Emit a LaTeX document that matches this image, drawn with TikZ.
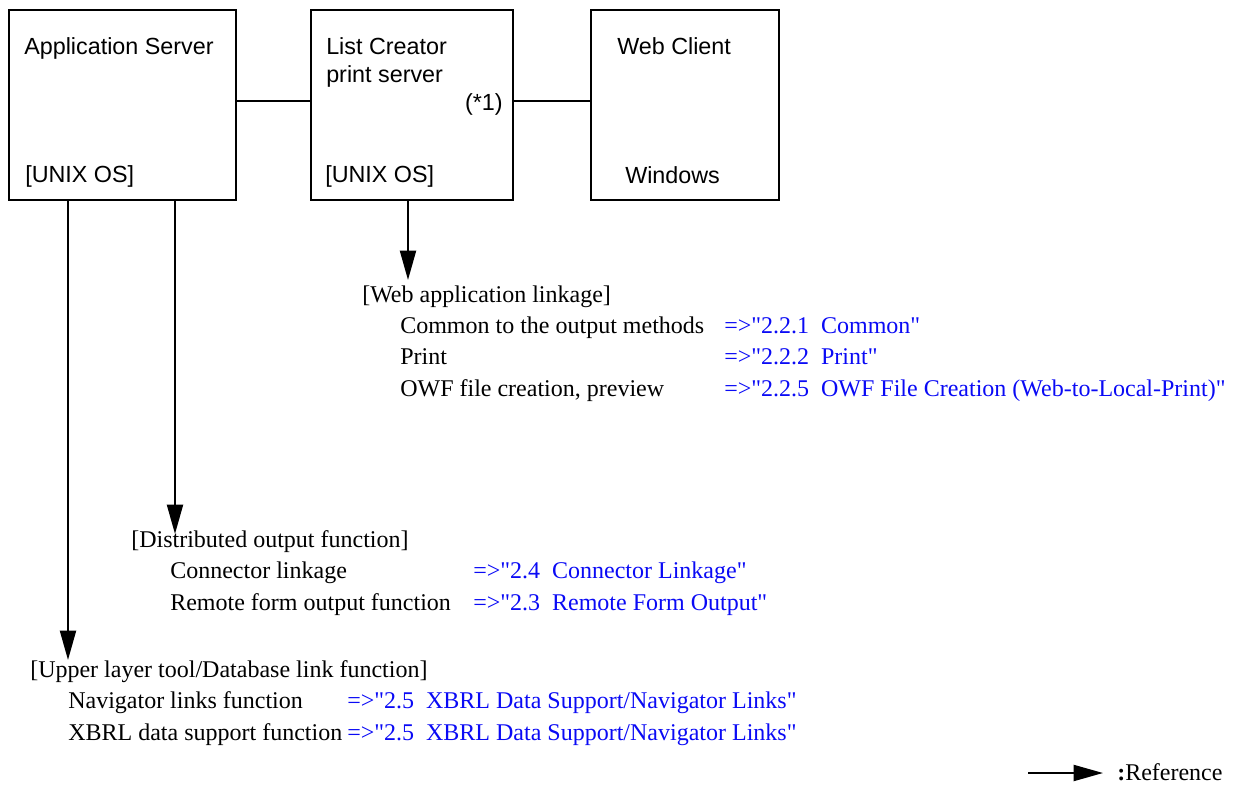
\documentclass[tikz,border=0pt]{standalone}
\usepackage{fontspec}
\setmainfont{Liberation Serif}[Ligatures=TeXOff]
\setsansfont{Liberation Sans}
\usetikzlibrary{arrows.meta}
\definecolor{refblue}{RGB}{10,10,245}
\begin{document}
\begin{tikzpicture}[x=0.75pt,y=-0.75pt,
  box/.style={draw, line width=1.5pt, anchor=north west, minimum height=142.5pt, inner sep=0pt},
  btxt/.style={anchor=base west, inner sep=0pt, font=\sffamily\fontsize{17.5}{21}\selectfont},
  stxt/.style={anchor=base west, inner sep=0pt, font=\fontsize{18}{21}\selectfont},
  ltxt/.style={stxt, text=refblue},
  conn/.style={line width=1.3pt},
  arr/.style={line width=1.5pt, -{Triangle[length=22pt,width=12pt]}}]
\useasboundingbox (0,0) rectangle (1236,785);
% boxes
\node[box, minimum width=170.25pt] (as) at (8,9) {};
\node[box, minimum width=151.5pt] (ps) at (310,9) {};
\node[box, minimum width=141pt] (wc) at (590,9) {};
% box texts
\node[btxt] (t1) at (24,55) {Application Server};
\node[btxt] (t2) at (25,182) {[UNIX OS]};
\node[btxt] (t3) at (326,55) {List Creator};
\node[btxt] (t4) at (326,82) {print server};
\node[btxt, anchor=base east] (t5) at (503,110) {(*1)};
\node[btxt] (t6) at (325,182) {[UNIX OS]};
\node[btxt] (t7) at (617,54) {Web Client};
\node[btxt] (t8) at (625,183) {Windows};
% links between boxes
\draw[conn] ([yshift=3pt]as.east) -- ([yshift=3pt]ps.west);
\draw[conn] ([yshift=3pt]ps.east) -- ([yshift=3pt]wc.west);
% arrow ends
\coordinate (e1) at (408,280);
\coordinate (e2) at (175,534);
\coordinate (e3) at (68,660);
\draw[arr] (ps.south -| e1) -- (e1);
\draw[arr] (as.south -| e2) -- (e2);
\draw[arr] (as.south -| e3) -- (e3);
% web application linkage
\node[stxt] (w0) at (362,302) {[Web application linkage]};
\node[stxt] (w1) at (400,333) {Common to the output methods};
\node[ltxt] (w1r) at (724,333) {=>"2.2.1\ \ Common"};
\node[stxt] (w2) at (400,364) {Print};
\node[ltxt] (w2r) at (724,364) {=>"2.2.2\ \ Print"};
\node[stxt] (w3) at (400,396) {OWF file creation, preview};
\node[ltxt] (w3r) at (724,396) {=>"2.2.5\ \ OWF File Creation (Web-to-Local-Print)"};
% distributed output
\node[stxt] (d0) at (131,547) {[Distributed output function]};
\node[stxt] (d1) at (170,578) {Connector linkage};
\node[ltxt] (d1r) at (473,578) {=>"2.4\ \ Connector Linkage"};
\node[stxt] (d2) at (170,610) {Remote form output function};
\node[ltxt] (d2r) at (473,610) {=>"2.3\ \ Remote Form Output"};
% upper layer
\node[stxt] (u0) at (30,677) {[Upper layer tool/Database link function]};
\node[stxt] (u1) at (68,708) {Navigator links function};
\node[ltxt] (u1r) at (347,708) {=>"2.5\ \ XBRL Data Support/Navigator Links"};
\node[stxt] (u2) at (68,740) {XBRL data support function};
\node[ltxt] (u2r) at (347,740) {=>"2.5\ \ XBRL Data Support/Navigator Links"};
% legend
\coordinate (l1) at (1028,773);
\coordinate (l2) at (1103,773);
\draw[arr] (l1) -- (l2);
\node[stxt] (lg) at (1117,780) {\textbf{:}Reference};
\end{tikzpicture}
\end{document}
